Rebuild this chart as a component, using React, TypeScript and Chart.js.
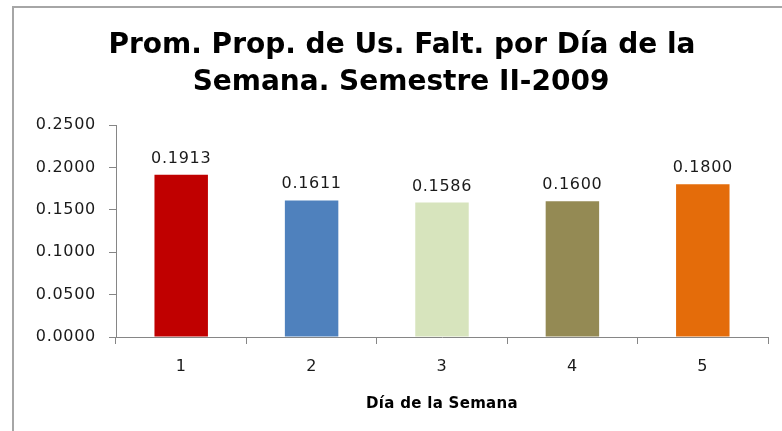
import React, { useEffect, useRef } from "react";
import { Chart, registerables } from "chart.js";

Chart.register(...registerables);

const days = ["1", "2", "3", "4", "5"];
const values = [0.1913, 0.1611, 0.1586, 0.16, 0.18];
const barColors = ["#C00000", "#4F81BD", "#D7E4BD", "#948A54", "#E46C0A"];
const titleLines = ["Prom. Prop. de Us. Falt. por Día de la", "Semana. Semestre II-2009"];
const xTitle = "Día de la Semana";
const yMin = 0;
const yMax = 0.25;
const yStep = 0.05;

const W = 782;
const H = 431;

const decorPlugin = {
  id: "decor",
  beforeDraw(chart: any) {
    const ctx = chart.ctx;
    ctx.save();
    ctx.fillStyle = "#ffffff";
    ctx.fillRect(0, 0, W, H);
    ctx.strokeStyle = "#a6a6a6";
    ctx.lineWidth = 2;
    ctx.strokeRect(13, 7, W + 20, H + 20);
    ctx.restore();
    ctx.letterSpacing = "0.7px";
  },
  afterDraw(chart: any) {
    const ctx = chart.ctx;
    const area = chart.chartArea;
    ctx.save();
    ctx.fillStyle = "#000000";
    ctx.textAlign = "center";
    ctx.textBaseline = "alphabetic";
    ctx.letterSpacing = "0px";
    ctx.font = "bold 28px 'DejaVu Sans'";
    ctx.fillText(titleLines[0], 402, 53);
    ctx.fillText(titleLines[1], 401, 90);
    ctx.letterSpacing = "0.3px";
    ctx.font = "bold 15px 'DejaVu Sans'";
    ctx.fillText(xTitle, (area.left + area.right) / 2, 408);
    ctx.letterSpacing = "0.7px";
    ctx.font = "16px 'DejaVu Sans'";
    ctx.fillStyle = "#1a1a1a";
    const meta = chart.getDatasetMeta(0);
    meta.data.forEach((bar: any, i: number) => {
      ctx.fillText(values[i].toFixed(4), bar.x, bar.y - 12);
    });
    ctx.restore();
  },
};

export default function App() {
  const ref = useRef<HTMLCanvasElement | null>(null);
  useEffect(() => {
    if (!ref.current) return;
    const chart = new Chart(ref.current, {
      type: "bar",
      data: {
        labels: days,
        datasets: [
          {
            data: values,
            backgroundColor: barColors,
            borderWidth: 0,
            categoryPercentage: 1,
            barPercentage: 0.41,
          },
        ],
      },
      options: {
        responsive: false,
        animation: false,
        devicePixelRatio: 1,
        layout: { padding: { top: 125, right: 14, left: 0, bottom: 0 } },
        plugins: {
          legend: { display: false },
          title: { display: false },
          tooltip: { enabled: false },
        },
        scales: {
          x: {
            grid: {
              display: true,
              drawOnChartArea: false,
              offset: true,
              tickLength: 7,
              color: "#868686",
            },
            border: { display: true, color: "#868686", width: 1 },
            ticks: {
              padding: 13,
              color: "#1a1a1a",
              font: { family: "'DejaVu Sans'", size: 16 },
            },
            afterFit(scale: any) {
              scale.height = H - 337;
            },
          },
          y: {
            min: yMin,
            max: yMax,
            grid: {
              display: true,
              drawOnChartArea: false,
              tickLength: 7,
              color: "#868686",
            },
            border: { display: true, color: "#868686", width: 1 },
            ticks: {
              stepSize: yStep,
              padding: 13,
              color: "#1a1a1a",
              font: { family: "'DejaVu Sans'", size: 16 },
              callback: (v: any) => Number(v).toFixed(4),
            },
            afterFit(scale: any) {
              scale.width = 116;
            },
          },
        },
      },
      plugins: [decorPlugin],
    });
    return () => chart.destroy();
  }, []);
  return (
    <div style={{ position: "fixed", left: 0, top: 0, width: W, height: H, background: "#fff" }}>
      <canvas ref={ref} width={W} height={H} style={{ width: W, height: H, display: "block" }} />
    </div>
  );
}
